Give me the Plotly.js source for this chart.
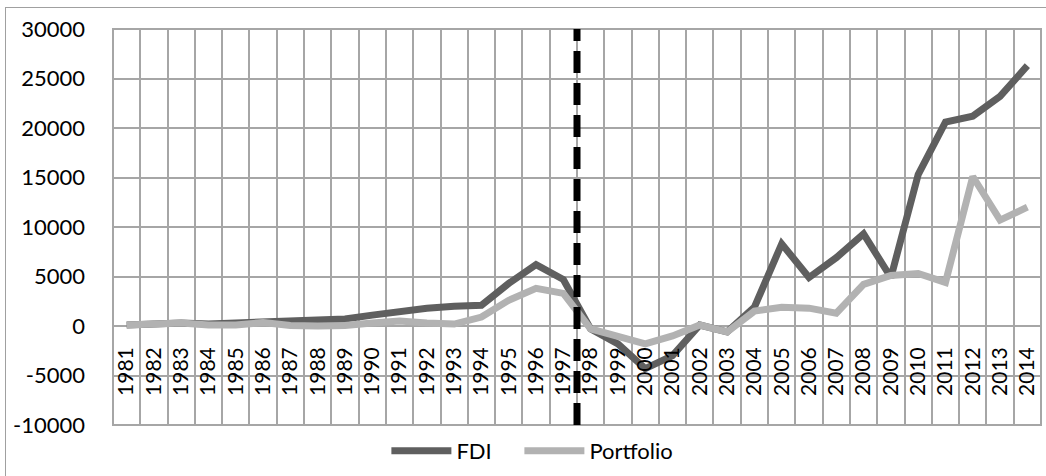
<!DOCTYPE html>
<html>
<head>
<meta charset="utf-8">
<script src="https://cdn.plot.ly/plotly-3.0.1.min.js"></script>
<style>
  html, body { margin: 0; padding: 0; background: #ffffff; overflow: hidden; }
  #chart { position: absolute; left: 0; top: 0; width: 1046px; height: 476px; }
  #frame { position: absolute; left: 5px; top: 7px; width: 1100px; height: 520px;
           border-left: 1.5px solid #a0a0a0; border-top: 1.5px solid #a0a0a0; pointer-events: none; }
</style>
</head>
<body>
<div id="chart"></div>
<div id="frame"></div>
<script>
// ---- data ----
const years = ["1981","1982","1983","1984","1985","1986","1987","1988","1989","1990",
  "1991","1992","1993","1994","1995","1996","1997","1998","1999","2000",
  "2001","2002","2003","2004","2005","2006","2007","2008","2009","2010",
  "2011","2012","2013","2014"];
const fdi = [100, 200, 300, 200, 300, 350, 400, 600, 700, 1100,
  1500, 1800, 2000, 2100, 4300, 6200, 4700, -300, -1800, -4300,
  -3000, 100, -600, 1900, 8300, 4900, 6900, 9300, 4900, 15300,
  20600, 21200, 23200, 26300];
const portfolio = [100, 250, 300, 100, 100, 350, 50, 0, 50, 300,
  500, 300, 200, 900, 2600, 3800, 3300, -300, -1100, -1800,
  -1000, 100, -600, 1500, 1900, 1800, 1300, 4200, 5100, 5300,
  4400, 15100, 10700, 12000];
const seriesNames = ["FDI", "Portfolio"];
const yTickVals = [-10000, -5000, 0, 5000, 10000, 15000, 20000, 25000, 30000];
const yTickText = ["-10000", "-5000", "0", "5000", "10000", "15000", "20000", "25000", "30000"];
const breakAfterYear = "1997";

// ---- chart ----
const yMin = yTickVals[0], yMax = yTickVals[yTickVals.length - 1];
const gridColor = "#a6a6a6";
const fontFamily = "Lato, 'Open Sans', sans-serif";
const xFont = { family: fontFamily, size: 21, color: "#000000" };
const yFont = { family: fontFamily, size: 22, color: "#000000" };
const legendFont = { family: fontFamily, size: 22, color: "#000000" };

const traces = [
  { type: "scatter", mode: "lines", name: seriesNames[0], x: years, y: fdi,
    line: { color: "#5f5f5f", width: 7 }, legendwidth: 58 },
  { type: "scatter", mode: "lines", name: seriesNames[1], x: years, y: portfolio,
    line: { color: "#b2b2b2", width: 7 } }
];

const breakX = years.indexOf(breakAfterYear) + 0.5;

const layout = {
  width: 1046, height: 476,
  margin: { l: 113, r: 5, t: 29, b: 50 },
  paper_bgcolor: "rgba(0,0,0,0)",
  plot_bgcolor: "rgba(0,0,0,0)",
  font: xFont,
  showlegend: true,
  xaxis: {
    type: "category",
    range: [-0.5, years.length - 0.5],
    tickson: "boundaries",
    showgrid: true, gridcolor: gridColor, gridwidth: 2,
    zeroline: false, showline: false,
    anchor: "free", position: (0 - yMin) / (yMax - yMin),
    ticks: "", tickangle: -90, ticklabelstandoff: 16,
    tickfont: xFont, fixedrange: true
  },
  yaxis: {
    range: [yMin, yMax],
    tickvals: yTickVals, ticktext: yTickText,
    showgrid: true, gridcolor: gridColor, gridwidth: 2,
    zeroline: false, showline: false,
    ticks: "", ticklabelstandoff: 27,
    tickfont: yFont, fixedrange: true
  },
  legend: {
    orientation: "h", x: 0.2946, xanchor: "left", y: -0.063, yanchor: "middle",
    font: legendFont, itemwidth: 60, bgcolor: "rgba(0,0,0,0)"
  },
  shapes: [
    { type: "rect", xref: "paper", yref: "paper", x0: 0, x1: 1, y0: 0, y1: 1,
      line: { color: gridColor, width: 2 }, layer: "below" },
    { type: "line", xref: "x", yref: "paper", x0: breakX, x1: breakX, y0: 0, y1: 1,
      line: { color: "#000000", width: 7, dash: "22px,10px" }, layer: "above" }
  ]
};

Plotly.newPlot("chart", traces, layout, { displayModeBar: false });
</script>
</body>
</html>
